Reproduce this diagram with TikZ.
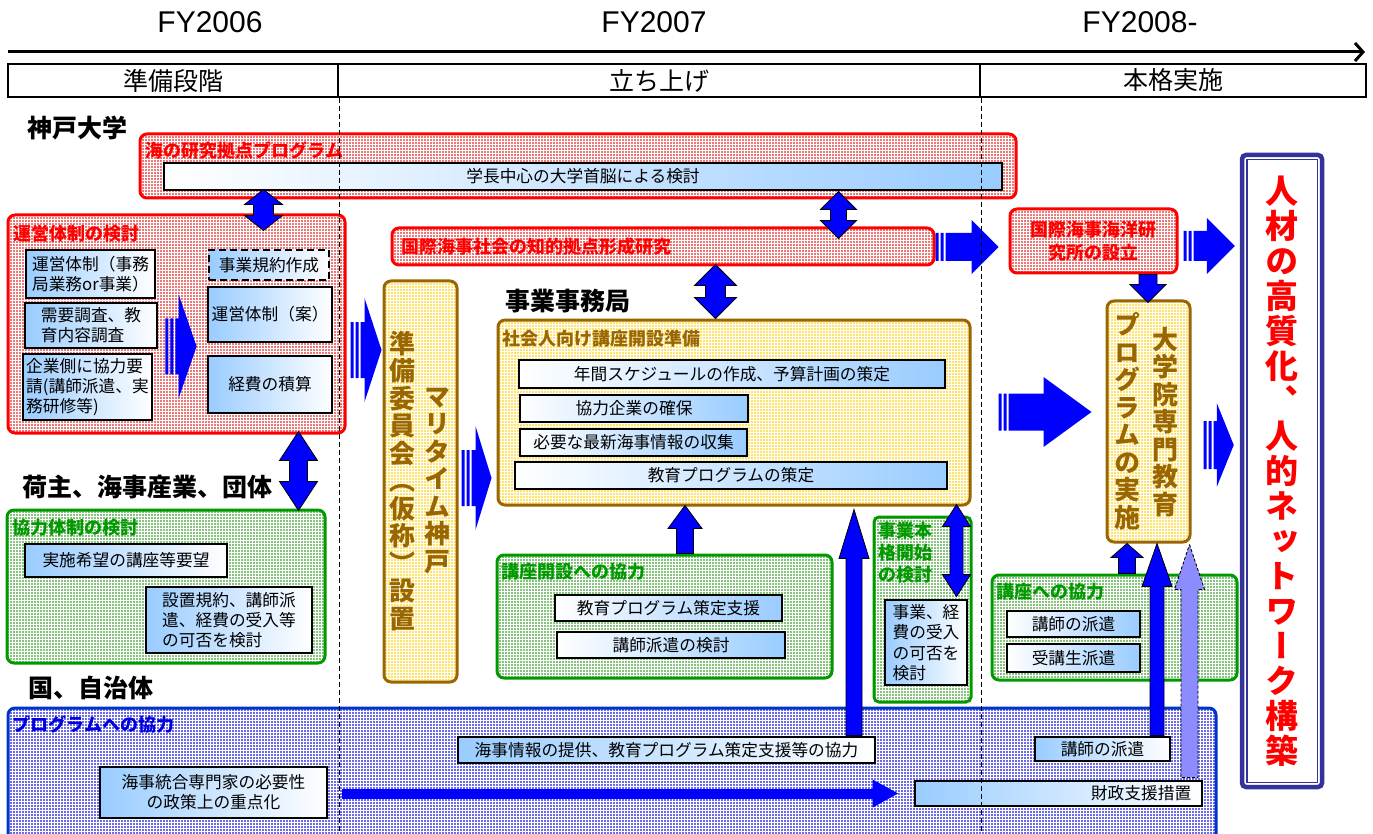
\documentclass[tikz,border=0pt]{standalone}
\usepackage{fontspec}
\setmainfont{Noto Sans CJK JP}
\newfontfamily\arialf{Liberation Sans}
\newfontfamily\vjp[RawFeature=+vert]{Noto Sans CJK JP}
\usetikzlibrary{calc,arrows.meta,patterns}
\definecolor{redc}{HTML}{FF0000}
\definecolor{redfill}{HTML}{EC7878}
\definecolor{grnc}{HTML}{009900}
\definecolor{grnfill}{HTML}{86C47E}
\definecolor{brnc}{HTML}{996600}
\definecolor{yelfill}{HTML}{FFE266}
\definecolor{bluc}{HTML}{0033CC}
\definecolor{blut}{HTML}{0000DD}
\definecolor{blufill}{HTML}{6A6AEA}
\definecolor{skyb}{HTML}{99CCFF}
\definecolor{arrblue}{HTML}{0000FF}
\definecolor{navyc}{HTML}{333399}

\newcommand\mybox[7][]{%
 \pgfmathsetmacro\mbx{(#3+#5)/2}%
 \pgfmathsetmacro\mby{(#4+#6)/2}%
 \pgfmathsetmacro\mbw{#5-#3}%
 \pgfmathsetmacro\mbh{#6-#4}%
 \node[#1, minimum width=\mbw pt, minimum height=\mbh pt] (#2) at (\mbx,\mby) {#7};}

\newcommand\dblV[5]{\draw[fatarr] let \p1=(#1), \p2=(#2) in
 (\x1,\y1) -- (\x1+#4pt,\y1-#5pt) -- (\x1+#3pt,\y1-#5pt) -- (\x1+#3pt,\y2+#5pt) -- (\x1+#4pt,\y2+#5pt) -- (\x1,\y2)
 -- (\x1-#4pt,\y2+#5pt) -- (\x1-#3pt,\y2+#5pt) -- (\x1-#3pt,\y1-#5pt) -- (\x1-#4pt,\y1-#5pt) -- cycle;}
\newcommand\upA[6][fatarr]{\draw[#1] let \p1=(#2), \p2=(#3) in
 (\x1,\y1) -- (\x1+#5pt,\y1-#6pt) -- (\x1+#4pt,\y1-#6pt) -- (\x1+#4pt,\y2) -- (\x1-#4pt,\y2) -- (\x1-#4pt,\y1-#6pt) -- (\x1-#5pt,\y1-#6pt) -- cycle;}
\newcommand\downA[5]{\draw[fatarr] let \p1=(#1), \p2=(#2) in
 (\x1-#3pt,\y1) -- (\x1+#3pt,\y1) -- (\x1+#3pt,\y2+#5pt) -- (\x1+#4pt,\y2+#5pt) -- (\x1,\y2) -- (\x1-#4pt,\y2+#5pt) -- (\x1-#3pt,\y2+#5pt) -- cycle;}
\newcommand\rightA[5]{\fill[arrblue] let \p1=(#1), \p2=(#2) in
 (\x1,\y1-#3pt) rectangle (\x1+3pt,\y1+#3pt) (\x1+5pt,\y1-#3pt) rectangle (\x1+8pt,\y1+#3pt)
 (\x1+10pt,\y1+#3pt) -- (\x2-#5pt,\y1+#3pt) -- (\x2-#5pt,\y1+#4pt) -- (\x2,\y1) -- (\x2-#5pt,\y1-#4pt) -- (\x2-#5pt,\y1-#3pt) -- (\x1+10pt,\y1-#3pt) -- cycle;}

\begin{document}
\begin{tikzpicture}[x=1pt,y=-1pt,
 cont/.style={line width=3pt, rounded corners=7pt, inner sep=0pt, pattern=grid, pattern color=white},
 redbox/.style={cont, draw=redc, preaction={fill=redfill}},
 grnbox/.style={cont, draw=grnc, preaction={fill=grnfill}},
 brnbox/.style={cont, draw=brnc, preaction={fill=yelfill}},
 blubox/.style={cont, draw=bluc, preaction={fill=blufill}},
 ib/.style={draw=black, line width=2.8pt, inner sep=1pt, font=\fontsize{16.7}{20}\selectfont, align=center},
 ibl/.style={ib, left color=skyb, right color=white},
 ibr/.style={ib, left color=white, right color=skyb},
 dashbox/.style={dash pattern=on 7pt off 4pt},
 ttl/.style={anchor=west, inner sep=0pt, font=\bfseries\fontsize{18}{22}\selectfont},
 sect/.style={anchor=west, inner sep=0pt, font=\bfseries\fontsize{25}{28}\selectfont},
 vt/.style={inner sep=0pt, align=center, font=\vjp\bfseries\fontsize{26}{27.5}\selectfont, text=brnc},
 fatarr/.style={fill=arrblue, draw=black, line width=0.8pt},
 dasharr/.style={fill=arrblue!45, draw=black, line width=0.9pt, dash pattern=on 3pt off 2pt},
 phase/.style={draw=black, line width=2pt, inner sep=0pt, font=\fontsize{25}{28}\selectfont},
 dashln/.style={line width=1pt, dash pattern=on 5pt off 3pt}]
\useasboundingbox (0,0) rectangle (1373,834);
\clip (0,0) rectangle (1373,834);
\fill[white] (0,0) rectangle (1373,834);

% header
\node[font=\arialf\fontsize{30}{34}\selectfont] (fy6) at (210,22) {FY2006};
\node[font=\arialf\fontsize{30}{34}\selectfont] (fy7) at (654,22) {FY2007};
\node[font=\arialf\fontsize{30}{34}\selectfont] (fy8) at (1140,22) {FY2008-};
\coordinate (tl0) at (8,52);
\coordinate (tl1) at (1365,52);
\draw[line width=3pt, -{Straight Barb[length=8pt,width=18pt]}] (tl0) -- (tl1);
\mybox[phase]{ph1}{8}{64}{338}{97}{準備段階}
\mybox[phase]{ph2}{338}{64}{980}{97}{立ち上げ}
\mybox[phase]{ph3}{980}{64}{1366}{97}{本格実施}

% section labels
\node[sect] (lkobe) at (27,128) {神戸大学};
\node[sect] (lninushi) at (22,487) {荷主、海事産業、団体};
\node[sect] (lkuni) at (28,688) {国、自治体};
\node[sect] (ljimu) at (505,301) {事業事務局};

% 海の研究拠点プログラム
\mybox[redbox]{umi}{140}{134}{1016}{198}{}
\node[ttl,text=redc] (umit) at ($(umi.north west)+(7,18)$) {海の研究拠点プログラム};
\mybox[ibr]{gakucho}{164}{163}{1002}{190}{学長中心の大学首脳による検討}

% 運営体制の検討
\mybox[redbox]{unei}{8}{215}{345}{433}{}
\node[ttl,text=redc] (uneit) at ($(unei.north west)+(7,20)$) {運営体制の検討};
\mybox[ibl,align=left]{ua}{26}{250}{155}{298}{運営体制（事務\\局業務or事業）}
\mybox[ibl,align=left]{ub}{25}{303}{157}{348}{需要調査、教\\育内容調査}
\mybox[ibl,align=left]{uc}{23}{354}{152}{420}{企業側に協力要\\請(講師派遣、実\\務研修等)}
\mybox[ibl,dashbox]{ud}{209}{250}{329}{280}{事業規約作成}
\mybox[ibl]{ue}{208}{287}{332}{342}{運営体制（案）}
\mybox[ibl]{uf}{208}{356}{332}{413}{経費の積算}

% 協力体制の検討
\mybox[grnbox]{kyo}{7}{510}{325}{663}{}
\node[ttl,text=grnc] (kyot) at ($(kyo.north west)+(7,19)$) {協力体制の検討};
\mybox[ibl]{ka}{25}{544}{227}{577}{実施希望の講座等要望}
\mybox[ibl,align=left]{kb}{146}{587}{312}{653}{設置規約、講師派\\遣、経費の受入等\\の可否を検討}

% 準備委員会
\mybox[brnbox]{jumbi}{384}{281}{457}{682}{}
\node[vt] (jv1) at (402,481) {準\\備\\委\\員\\会\\（\\仮\\称\\）\\設\\置};
\node[vt] (jv2) at (437,481) {マ\\リ\\タ\\イ\\ム\\神\\戸};

% 国際海事社会
\mybox[redbox]{kokusai}{392}{228}{934}{265}{}
\node[ttl,text=redc] (kokusait) at ($(kokusai.west)+(11,0)$) {国際海事社会の知的拠点形成研究};
\mybox[redbox,text=redc,align=center,font=\bfseries\fontsize{18}{23}\selectfont]{kenkyujo}{1010}{209}{1177}{273}{国際海事海洋研\\究所の設立}

% 大学院
\mybox[brnbox]{daigaku}{1107}{301}{1190}{542}{}
\node[vt] (dv1) at (1127,421) {プ\\ロ\\グ\\ラ\\ム\\の\\実\\施};
\node[vt] (dv2) at (1165,422) {大\\学\\院\\専\\門\\教\\育};

% 人材
\mybox[draw=navyc, line width=4.5pt, fill=white, rounded corners=4pt, inner sep=0pt]{jinzai}{1242}{155}{1322}{787}{}
\draw[navyc, line width=1.5pt] ($(jinzai.north west)+(7,7)$) rectangle ($(jinzai.south east)+(-7,-7)$);
\node[inner sep=0pt, align=center, text=redc, font=\vjp\bfseries\fontsize{33}{35}\selectfont] (jt) at (jinzai.center) {人\\材\\の\\高\\質\\化\\、\\人\\的\\ネ\\ッ\\ト\\ワ\\ー\\ク\\構\\築};

% 社会人向け
\mybox[brnbox]{shakai}{498}{320}{970}{505}{}
\node[ttl,text=brnc] (shakait) at ($(shakai.north west)+(6,20)$) {社会人向け講座開設準備};
\mybox[ibr]{sa}{519}{360}{945}{388}{年間スケジュールの作成、予算計画の策定}
\mybox[ibr]{sb}{520}{395}{748}{422}{協力企業の確保}
\mybox[ibr]{sc}{520}{429}{747}{456}{必要な最新海事情報の収集}
\mybox[ibr]{sd}{515}{462}{947}{489}{教育プログラムの策定}

% 講座開設への協力
\mybox[grnbox]{kaisetsu}{497}{555}{832}{678}{}
\node[ttl,text=grnc] (kaisetsut) at ($(kaisetsu.north west)+(6,18)$) {講座開設への協力};
\mybox[ibr]{ka1}{555}{595}{782}{621}{教育プログラム策定支援}
\mybox[ibr]{ka2}{557}{632}{785}{658}{講師派遣の検討}

% 事業本格開始の検討
\mybox[grnbox,rounded corners=5pt]{honkaku}{874}{517}{971}{702}{}
\node[ttl,text=grnc,anchor=north west,align=left] (honkakut) at ($(honkaku.north west)+(6,6)$) {事業本\\格開始\\の検討};
\mybox[ibl,align=left,font=\fontsize{16.7}{20.5}\selectfont]{hk}{885}{600}{967}{685}{事業、経\\費の受入\\の可否を\\検討}

% 講座への協力
\mybox[grnbox]{koza}{992}{575}{1237}{680}{}
\node[ttl,text=grnc] (kozat) at ($(koza.north west)+(6,18)$) {講座への協力};
\mybox[ibr]{kz1}{1007}{611}{1140}{637}{講師の派遣}
\mybox[ibr]{kz2}{1007}{644}{1140}{672}{受講生派遣}

% プログラムへの協力
\mybox[blubox]{prog}{8}{708}{1216}{860}{}
\node[ttl,text=blut] (progt) at ($(prog.north west)+(6,18)$) {プログラムへの協力};
\mybox[ibl]{pa}{458}{737}{875}{763}{海事情報の提供、教育プログラム策定支援等の協力}
\mybox[ibl]{pb}{1035}{737}{1170}{761}{講師の派遣}
\mybox[ibl]{pc}{100}{767}{327}{818}{海事統合専門家の必要性\\の政策上の重点化}
\mybox[ibl]{pd}{915}{781}{1202}{806}{}
\node[anchor=east, font=\fontsize{16.7}{20}\selectfont, inner sep=0pt] (pdt) at ($(pd.east)+(-12,0)$) {財政支援措置};

% arrows
\dblV{$(umi.south west)+(125,-10)$}{$(unei.north west)+(257,17)$}{10}{19}{15}
\dblV{$(unei.south west)+(292,-3)$}{$(kyo.north west)+(293,2)$}{9}{19}{29}
\dblV{$(umi.south west)+(700,-8)$}{$(kokusai.north west)+(448,12)$}{8}{18}{18}
\dblV{$(kokusai.south west)+(325,-2)$}{$(shakai.north west)+(219,0)$}{10}{21}{21}
\dblV{$(shakai.south east)+(-15,-2)$}{$(hk.north east)+(-12,-2)$}{6.5}{14}{22}

\rightA{$(ub.south east)+(7,-3)$}{$(uf.north west)+(-10,-11)$}{28}{52}{18}
\rightA{$(unei.east)+(4,26)$}{$(jumbi.north west)+(-1,69)$}{28}{52}{17}
\rightA{$(jumbi.east)+(3,-3.5)$}{$(shakai.south west)+(-5,-27)$}{28}{52}{16}
\rightA{$(kokusai.east)+(0,0.5)$}{$(kenkyujo.west)+(-10,6)$}{14}{27}{27}
\rightA{$(kenkyujo.east)+(5,5)$}{$(jinzai.north west)+(-5,91)$}{15}{28}{28}
\rightA{$(daigaku.west)+(-107,-9.5)$}{$(daigaku.west)+(-14,-9.5)$}{18.5}{35}{48}
\rightA{$(daigaku.east)+(12,23.5)$}{$(jinzai.west)+(-6,-26)$}{24}{42}{17}

\downA{$(kenkyujo.south)+(54.5,0)$}{$(daigaku.north)+(-0.5,3)$}{9}{18}{18}

\upA{$(shakai.south)+(-49,-1)$}{$(kaisetsu.north)+(20.5,0)$}{8.5}{17}{23}
\upA{$(shakai.south)+(120,3)$}{$(pa.north east)+(-21,0)$}{8}{15}{49}
\upA{$(daigaku.south)+(-21.5,0)$}{$(koza.north)+(12.5,0)$}{8.5}{16}{14}
\upA{$(daigaku.south)+(8.5,0)$}{$(pb.north east)+(-13,0)$}{7}{15}{43}
\upA[dasharr]{$(daigaku.south east)+(-2,1)$}{$(pd.north east)+(-14,-2)$}{8.5}{15}{45}

\draw[arrblue, line width=10pt, -{Triangle[length=26pt,width=26pt]}, shorten <=14pt, shorten >=15pt] ($(pc.east)+(0,1)$) -- (pd.west);

% dashed phase lines
\coordinate (d1b) at (338,834);
\coordinate (d2b) at (980,834);
\draw[dashln] (ph1.south east) -- (ph1.south east |- d1b);
\draw[dashln] (ph2.south east) -- (ph2.south east |- d2b);
\end{tikzpicture}
\end{document}
